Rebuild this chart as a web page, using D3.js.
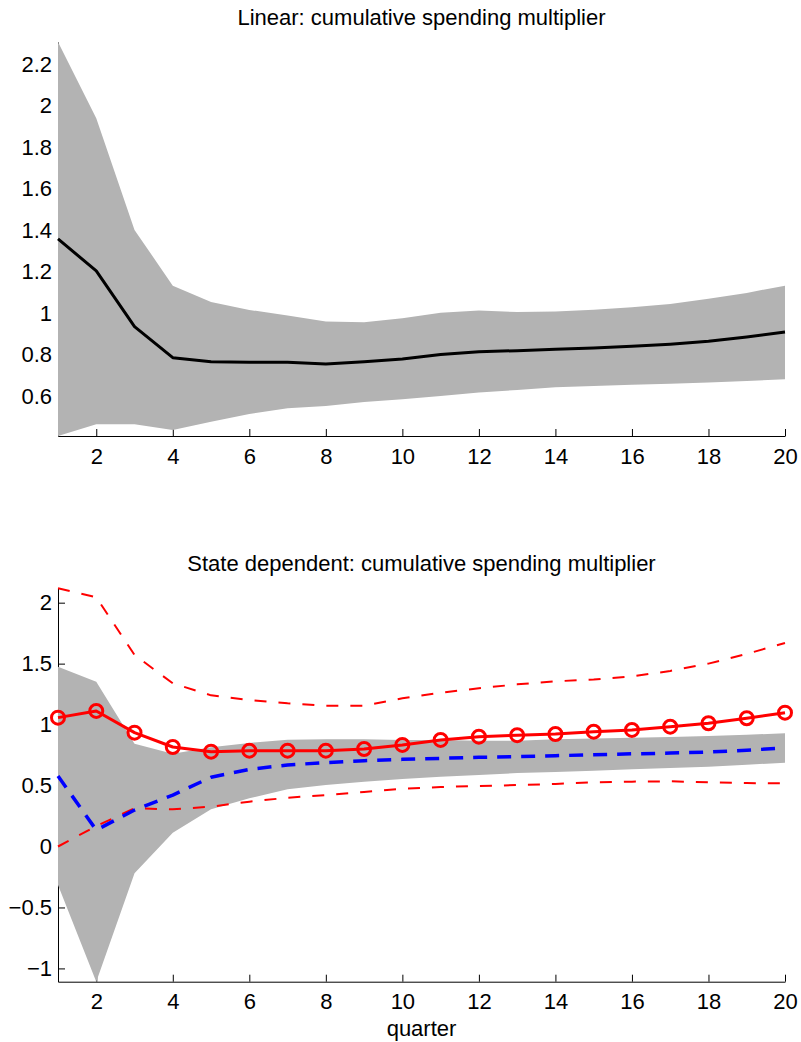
<!DOCTYPE html>
<html>
<head>
<meta charset="utf-8">
<script src="https://cdn.jsdelivr.net/npm/d3@7"></script>
<style>
  body { margin: 0; background: #fff; }
  text { font-family: "Liberation Sans", Arial, Helvetica, sans-serif; }
</style>
</head>
<body>
<svg id="chart"></svg>
<script>
const quarters = [1, 2, 3, 4, 5, 6, 7, 8, 9, 10, 11, 12, 13, 14, 15, 16, 17, 18, 19, 20];
const xTicks = [2, 4, 6, 8, 10, 12, 14, 16, 18, 20];

// linear model
const linearMean  = [1.358, 1.204, 0.936, 0.786, 0.767, 0.764, 0.764, 0.756, 0.766, 0.780, 0.801, 0.815, 0.820, 0.827, 0.833, 0.841, 0.851, 0.865, 0.886, 0.910];
const linearUpper = [2.306, 1.939, 1.401, 1.133, 1.054, 1.016, 0.989, 0.960, 0.957, 0.976, 1.003, 1.013, 1.006, 1.008, 1.017, 1.029, 1.045, 1.070, 1.098, 1.133];
const linearLower = [0.409, 0.466, 0.466, 0.438, 0.478, 0.515, 0.543, 0.554, 0.573, 0.586, 0.602, 0.618, 0.631, 0.644, 0.650, 0.656, 0.660, 0.666, 0.674, 0.682];
const linearTicks = [0.6, 0.8, 1, 1.2, 1.4, 1.6, 1.8, 2, 2.2];

// state dependent model
const expansionMean  = [0.578, 0.135, 0.299, 0.422, 0.568, 0.633, 0.669, 0.688, 0.704, 0.715, 0.723, 0.732, 0.737, 0.745, 0.752, 0.760, 0.766, 0.775, 0.790, 0.808];
const expansionUpper = [1.475, 1.352, 0.842, 0.760, 0.815, 0.850, 0.876, 0.880, 0.879, 0.874, 0.874, 0.868, 0.868, 0.879, 0.886, 0.893, 0.899, 0.906, 0.917, 0.929];
const expansionLower = [-0.316, -1.109, -0.220, 0.113, 0.305, 0.395, 0.470, 0.504, 0.532, 0.554, 0.573, 0.587, 0.602, 0.612, 0.622, 0.633, 0.644, 0.655, 0.671, 0.688];
const recessionMean  = [1.057, 1.112, 0.934, 0.816, 0.778, 0.786, 0.786, 0.786, 0.800, 0.833, 0.874, 0.901, 0.913, 0.923, 0.942, 0.956, 0.983, 1.011, 1.052, 1.098];
const recessionUpper = [2.118, 2.044, 1.571, 1.339, 1.240, 1.202, 1.175, 1.155, 1.155, 1.216, 1.262, 1.298, 1.330, 1.355, 1.370, 1.395, 1.440, 1.500, 1.580, 1.670];
const recessionLower = [0.000, 0.168, 0.313, 0.305, 0.327, 0.368, 0.400, 0.422, 0.448, 0.474, 0.488, 0.496, 0.504, 0.513, 0.527, 0.532, 0.535, 0.527, 0.520, 0.518];
const stateTicks = [-1, -0.5, 0, 0.5, 1, 1.5, 2];

const width = 801, height = 1042;
const left = 58, right = 785;
const fontSize = 22;

const svg = d3.select("#chart")
  .attr("width", width)
  .attr("height", height);

const x = d3.scaleLinear().domain([1, 20]).range([left, right]);
const fmt = d3.format("~g");

function drawPanel(top, bottom, title, ticks, bands, lines, xlabel) {
  const allValues = bands.flatMap(b => b.upper.concat(b.lower))
    .concat(lines.flatMap(l => l.values));
  const y = d3.scaleLinear().domain(d3.extent(allValues)).range([bottom, top]);

  const g = svg.append("g");

  // axes first, data drawn over them
  g.append("g")
    .attr("transform", `translate(0,${bottom})`)
    .call(d3.axisBottom(x).tickValues(xTicks).tickSizeInner(-7).tickSizeOuter(0).tickPadding(12).tickFormat(fmt))
    .call(a => a.selectAll("text").attr("font-size", fontSize).attr("fill", "#000").attr("font-family", null))
    .call(a => a.selectAll("line, path").attr("stroke", "#000"));

  g.append("g")
    .attr("transform", `translate(${left},0)`)
    .call(d3.axisLeft(y).tickValues(ticks).tickSizeInner(-7).tickSizeOuter(0).tickPadding(6).tickFormat(fmt))
    .call(a => a.selectAll("text").attr("font-size", fontSize).attr("fill", "#000").attr("font-family", null))
    .call(a => a.selectAll("line, path").attr("stroke", "#000"));

  bands.forEach(b => {
    g.append("path")
      .datum(quarters)
      .attr("fill", "#b3b3b3")
      .attr("d", d3.area()
        .x(q => x(q))
        .y0((q, i) => y(b.lower[i]))
        .y1((q, i) => y(b.upper[i])));
  });

  lines.forEach(l => {
    g.append("path")
      .datum(l.values)
      .attr("fill", "none")
      .attr("stroke", l.color)
      .attr("stroke-width", l.width)
      .attr("stroke-dasharray", l.dash || null)
      .attr("stroke-linejoin", "round")
      .attr("d", d3.line().x((v, i) => x(quarters[i])).y(v => y(v)));

    if (l.markers) {
      g.append("g")
        .selectAll("circle")
        .data(l.values)
        .join("circle")
        .attr("cx", (v, i) => x(quarters[i]))
        .attr("cy", v => y(v))
        .attr("r", 6.5)
        .attr("fill", "none")
        .attr("stroke", l.color)
        .attr("stroke-width", 3);
    }
  });

  g.append("text")
    .attr("x", (left + right) / 2)
    .attr("y", top - 17)
    .attr("text-anchor", "middle")
    .attr("font-size", fontSize)
    .text(title);

  if (xlabel) {
    g.append("text")
      .attr("x", (left + right) / 2)
      .attr("y", bottom + 54.5)
      .attr("text-anchor", "middle")
      .attr("font-size", fontSize)
      .text(xlabel);
  }
}

drawPanel(42, 436, "Linear: cumulative spending multiplier", linearTicks,
  [{ upper: linearUpper, lower: linearLower }],
  [{ values: linearMean, color: "#000", width: 3 }]);

drawPanel(588.3, 981.7, "State dependent: cumulative spending multiplier", stateTicks,
  [{ upper: expansionUpper, lower: expansionLower }],
  [
    { values: recessionUpper, color: "#ff0000", width: 2, dash: "12,12" },
    { values: recessionLower, color: "#ff0000", width: 2, dash: "12,12" },
    { values: expansionMean, color: "#0000ff", width: 3.5, dash: "14,10" },
    { values: recessionMean, color: "#ff0000", width: 3, markers: true }
  ],
  "quarter");
</script>
</body>
</html>
